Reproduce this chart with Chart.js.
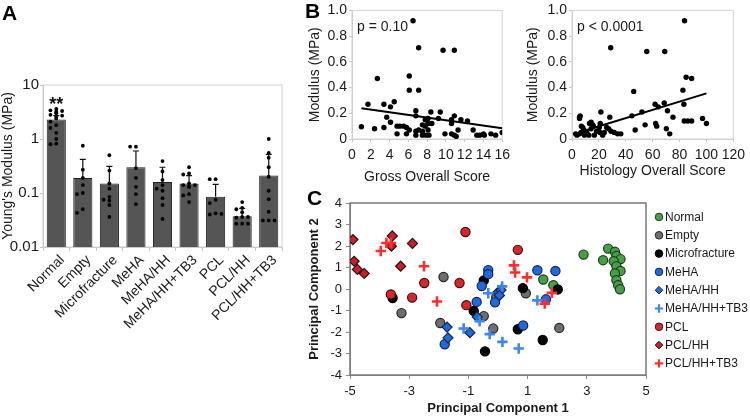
<!DOCTYPE html>
<html>
<head>
<meta charset="utf-8">
<script src="https://cdn.jsdelivr.net/npm/chart.js@4.4.1/dist/chart.umd.min.js"></script>
<style>
  html, body { margin: 0; padding: 0; background: #fff; }
  #fig { position: relative; width: 750px; height: 417px; overflow: hidden; }
  #fig canvas { position: absolute; }
</style>
</head>
<body>
<div id="fig">
  <canvas id="barA" width="290" height="417" style="left:0;top:0"></canvas>
  <canvas id="grossB" width="225" height="200" style="left:290px;top:0"></canvas>
  <canvas id="histoB" width="235" height="200" style="left:515px;top:0"></canvas>
  <canvas id="pcaC" width="460" height="227" style="left:290px;top:190px"></canvas>
</div>
<script>
// ---- panel A: modulus per group (log scale) ----
const groups = ['Normal', 'Empty', 'Microfracture', 'MeHA', 'MeHA/HH', 'MeHA/HH+TB3', 'PCL', 'PCL/HH', 'PCL/HH+TB3'];
const meanModulus = [2.3, 0.19, 0.15, 0.30, 0.16, 0.15, 0.085, 0.037, 0.21];
const errUpper = [2.7, 0.42, 0.31, 0.6, 0.30, 0.21, 0.145, 0.052, 0.52];
const yTicksA = [0.01, 0.1, 1, 10];

const normalPts = [3.6, 3.4, 3.3, 3.2, 3.1, 3.0, 2.8, 2.7, 2.6, 2.4, 2.1, 1.8, 1.6, 1.3, 1.0, 0.82, 0.80];
const emptyPts = [0.75, 0.27, 0.19, 0.14, 0.10, 0.095, 0.05, 0.043];
const microPts = [0.5, 0.26, 0.15, 0.12, 0.085, 0.075, 0.072, 0.06, 0.036];
const mehaPts = [0.72, 0.72, 0.29, 0.19, 0.13, 0.095, 0.062];
const mehaHHPts = [0.39, 0.25, 0.175, 0.14, 0.12, 0.11, 0.08, 0.06, 0.033];
const mehaHHTB3Pts = [0.30, 0.23, 0.22, 0.15, 0.14, 0.14, 0.13, 0.13, 0.095, 0.09, 0.068];
const pclPts = [0.18, 0.18, 0.075, 0.065, 0.042, 0.04, 0.041];
const pclHHPts = [0.068, 0.053, 0.05, 0.044, 0.036, 0.035, 0.036, 0.027, 0.027, 0.027];
const pclHHTB3Pts = [1.0, 0.55, 0.45, 0.3, 0.2, 0.11, 0.077, 0.045, 0.031, 0.031, 0.031];

// ---- panel B: modulus vs scores ----
const grossScore = [1.0, 1.7, 2.4, 2.7, 3.4, 3.4, 3.7, 4.1, 4.5, 4.1, 4.8, 4.8, 5.1, 5.5, 5.8, 6.1, 5.8, 6.1, 6.1, 6.5,
  7.1, 7.1, 6.8, 6.8, 6.8, 6.8, 7.1, 7.5, 7.5, 7.5, 7.8, 7.8, 7.9, 8.1, 8.1, 8.1, 8.4, 8.2, 8.5, 9.2,
  9.4, 9.7, 9.9, 10.6, 10.6, 10.6, 10.9, 10.9, 10.9, 11.1, 11.3, 11.6, 12.3, 12.9, 13.3, 13.6, 14.0, 14.1, 14.8, 15.3, 16.0];
const grossModulus = [0.095, 0.27, 0.08, 0.47, 0.27, 0.09, 0.17, 0.25, 0.29, 0.13, 0.10, 0.04, 0.10, 0.10, 0.09, 0.07, 0.04, 0.49, 0.38, 0.92,
  0.71, 0.38, 0.22, 0.18, 0.06, 0.03, 0.07, 0.11, 0.06, 0.03, 0.15, 0.10, 0.03, 0.12, 0.07, 0.16, 0.21, 0.03, 0.12, 0.16,
  0.21, 0.69, 0.04, 0.15, 0.12, 0.04, 0.69, 0.18, 0.03, 0.02, 0.07, 0.15, 0.14, 0.07, 0.03, 0.03, 0.04, 0.03, 0.04, 0.03, 0.05];
const grossFitX = [1, 16];
const grossFitY = [0.24, 0.083];

const histoScore = [83.7, 28.8, 55.6, 69, 84.9, 89, 82.5, 45.9, 83.2, 61.8, 64.2, 68.6, 52, 44.6, 71, 75.1, 97.1, 100, 86.1, 89,
  83.5, 47, 54.4, 62.2, 63, 70.2, 72.7, 21.5, 28.1, 5.6, 5.6, 6.1, 13, 15.4, 14.2, 2.7, 3.7, 5.6, 6.8, 8.0,
  8.8, 9.3, 11, 12.5, 14.2, 15.9, 16.6, 18.3, 20.3, 20.8, 22.8, 24, 25.8, 27.2, 29, 31.4, 33.9, 36.3, 7, 10, 21];
const histoModulus = [0.92, 0.71, 0.68, 0.68, 0.48, 0.47, 0.38, 0.37, 0.27, 0.27, 0.25, 0.28, 0.21, 0.18, 0.22, 0.17, 0.16, 0.12, 0.14, 0.14,
  0.14, 0.07, 0.11, 0.12, 0.10, 0.08, 0.04, 0.21, 0.17, 0.17, 0.16, 0.18, 0.12, 0.11, 0.13, 0.04, 0.03, 0.04, 0.05, 0.09,
  0.07, 0.03, 0.05, 0.03, 0.08, 0.10, 0.03, 0.06, 0.09, 0.05, 0.03, 0.05, 0.09, 0.08, 0.06, 0.05, 0.04, 0.04, 0.10, 0.04, 0.12];
const histoFitX = [5, 100];
const histoFitY = [0.05, 0.355];

// ---- panel C: principal components ----
const normalPC = [[2.89, 1.6], [3.72, 1.88], [3.55, 1.34], [3.95, 1.73], [4.0, 1.54], [4.14, 1.39], [3.91, 1.29], [4.0, 1.06],
  [4.14, 0.84], [3.95, 0.72], [4.0, 0.41], [4.06, 0.18], [4.12, -0.01], [1.53, 0.44], [1.87, 0.18]];
const emptyPC = [[-1.84, 0.56], [-3.26, -1.12], [-1.95, -1.58], [-0.48, -1.26], [-0.16, -1.84], [-0.06, -0.38], [0.94, -0.2], [2.07, -1.81]];
const microPC = [[-3.56, -0.42], [-0.48, 0.4], [-0.82, -1.02], [-0.44, -2.9], [0.67, -1.87], [0.84, 0.04], [2.02, -0.02], [1.51, -2.37]];
const mehaPC = [[-0.33, 0.88], [-0.33, 0.69], [-0.55, 0.14], [-0.72, -0.6], [-0.1, -0.62], [-1.8, -2.57], [0.85, -1.7], [1.33, 0.87], [1.94, 0.84], [1.62, -0.48]];
const mehaHHPC = [[-1.72, -1.77], [-1.69, -2.27], [-0.95, -2.03], [-0.7, -1.3], [0.0, -0.15], [0.1, -0.05], [0.05, -0.3]];
const mehaHHTB3PC = [[-1.16, -1.84], [-0.28, -2.1], [0.15, -2.46], [0.7, -2.77], [-0.33, -0.2], [0.14, 0.12], [1.33, -0.53], [-0.62, -1.5]];
const pclPC = [[-1.1, 2.65], [-2.49, 0.28], [-1.3, 0.28], [-3.62, -0.25], [-2.9, -0.4], [-1.07, -0.75], [0.67, 1.82]];
const pclHHPC = [[-4.9, 2.3], [-3.57, 2.47], [-3.6, 1.99], [-2.89, 2.12], [-4.86, 1.29], [-4.75, 0.91], [-4.52, 0.72], [-3.29, 1.06]];
const pclHHTB3PC = [[-3.96, 1.77], [-3.77, 2.14], [-3.62, 2.14], [-2.5, 1.06], [-2.06, -0.58], [0.54, 1.1], [0.58, 0.77], [0.98, 0.54], [1.82, -0.18], [1.58, -0.68]];

const FONT = 'Arial, "Liberation Sans", Helvetica, sans-serif';
const INK = '#1a1a1a';
Chart.defaults.font.family = FONT;
Chart.defaults.color = INK;
Chart.defaults.animation = false;
Chart.defaults.plugins.legend.display = false;
Chart.defaults.plugins.tooltip.enabled = false;

function panelLetter(letter, x, y) {
  return {
    id: 'letter' + letter,
    afterDraw(chart) {
      const ctx = chart.ctx;
      ctx.save();
      ctx.font = 'bold 21px ' + FONT;
      ctx.fillStyle = '#000';
      ctx.textBaseline = 'alphabetic';
      ctx.fillText(letter, x, y);
      ctx.restore();
    }
  };
}

// light frame round the plot area
function frame(color, width) {
  return {
    id: 'frame',
    beforeDatasetsDraw(chart) {
      const { ctx, chartArea: a } = chart;
      ctx.save();
      ctx.strokeStyle = color;
      ctx.lineWidth = width;
      ctx.strokeRect(a.left, a.top, a.right - a.left, a.bottom - a.top);
      ctx.restore();
    }
  };
}

// ---------- A ----------
function swarmDots(sets) {
  const out = [];
  const cands = [0, -0.22, 0.22, -0.11, 0.11, -0.33, 0.33];
  sets.forEach((vals, gi) => {
    const placed = [];
    vals.forEach(v => {
      const lv = Math.log10(v);
      let off = cands.find(c => placed.every(p => Math.abs(p.lv - lv) > 0.07 || Math.abs(p.c - c) > 0.15));
      if (off === undefined) off = 0;
      placed.push({ lv, c: off });
      out.push({ x: gi + off, y: v });
    });
  });
  return out;
}

const groupDots = [normalPts, emptyPts, microPts, mehaPts, mehaHHPts, mehaHHTB3Pts, pclPts, pclHHPts, pclHHTB3Pts];

const errorBars = {
  id: 'errorBars',
  afterDatasetsDraw(chart) {
    const { ctx } = chart;
    const xs = chart.scales.x, ys = chart.scales.y;
    ctx.save();
    ctx.strokeStyle = '#111';
    ctx.lineWidth = 1.2;
    meanModulus.forEach((m, i) => {
      const x = xs.getPixelForValue(i);
      const y0 = ys.getPixelForValue(m);
      const y1 = ys.getPixelForValue(errUpper[i]);
      ctx.beginPath();
      ctx.moveTo(x, y0); ctx.lineTo(x, y1);
      ctx.moveTo(x - 3, y1); ctx.lineTo(x + 3, y1);
      ctx.stroke();
    });
    // significance mark over Normal
    const top = ys.getPixelForValue(Math.max(...normalPts));
    ctx.fillStyle = '#111';
    ctx.font = 'bold 18px ' + FONT;
    ctx.textAlign = 'center';
    ctx.textBaseline = 'alphabetic';
    ctx.fillText('**', xs.getPixelForValue(0), top + 1);
    ctx.restore();
  }
};

new Chart(document.getElementById('barA'), {
  type: 'bar',
  data: {
    labels: groups,
    datasets: [
      {
        type: 'scatter', data: swarmDots(groupDots), xAxisID: 'xDots', yAxisID: 'y',
        backgroundColor: '#000', borderWidth: 0, pointRadius: 1.9, order: 0
      },
      {
        type: 'bar', data: meanModulus, xAxisID: 'x', yAxisID: 'y', grouped: false,
        backgroundColor: '#555555', borderColor: '#1e1e1e', borderWidth: 1,
        barPercentage: 0.72, categoryPercentage: 1, order: 1
      }
    ]
  },
  options: {
    responsive: false,
    devicePixelRatio: 1,
    layout: { padding: { top: 85, right: 8, left: 0, bottom: 0 } },
    scales: {
      x: {
        type: 'category', offset: true,
        grid: { drawOnChartArea: false, color: '#c4c4c4', tickLength: 4, offset: true },
        border: { color: '#c4c4c4' },
        ticks: { font: { size: 14 }, color: INK, minRotation: 45, maxRotation: 45, autoSkip: false, padding: 1, labelOffset: 6 },
        afterFit(s) { s.height = 170; }
      },
      xDots: { type: 'linear', display: false, offset: false, grid: { offset: false }, min: -0.5, max: 8.5 },
      y: {
        type: 'logarithmic', min: 0.01, max: 10,
        afterBuildTicks(s) { s.ticks = yTicksA.map(v => ({ value: v })); },
        ticks: { callback: v => String(v), font: { size: 15 }, color: INK, padding: 1 },
        grid: { drawOnChartArea: false, color: '#c4c4c4', tickLength: 3 },
        border: { color: '#c4c4c4' },
        title: { display: true, text: "Young's Modulus (MPa)", font: { size: 14 }, color: INK, padding: { top: 0, bottom: 0 } },
        afterFit(s) { s.width = 43; }
      }
    }
  },
  plugins: [frame('#d0d0d0', 1), errorBars, panelLetter('A', 2, 20)]
});

// ---------- B ----------
function pLabel(text) {
  return {
    id: 'pLabel',
    afterDraw(chart) {
      const { ctx, chartArea: a } = chart;
      ctx.save();
      ctx.font = '14px ' + FONT;
      ctx.fillStyle = INK;
      ctx.textBaseline = 'middle';
      ctx.fillText(text, a.left + 5, a.top + 17);
      ctx.restore();
    }
  };
}

function scoreChart(id, xs, ys, fitX, fitY, xMax, xStep, xTitle, pText, lay) {
  return new Chart(document.getElementById(id), {
    type: 'scatter',
    data: {
      datasets: [
        {
          data: xs.map((x, i) => ({ x, y: ys[i] })),
          backgroundColor: '#000', borderWidth: 0, pointRadius: 2.7
        },
        {
          type: 'line', data: fitX.map((x, i) => ({ x, y: fitY[i] })),
          borderColor: '#000', borderWidth: 2, pointRadius: 0, fill: false
        }
      ]
    },
    options: {
      responsive: false,
      devicePixelRatio: 1,
      layout: { padding: { top: lay.top, right: lay.right, left: 0, bottom: 0 } },
      scales: {
        x: {
          type: 'linear', min: 0, max: xMax,
          ticks: { stepSize: xStep, font: { size: 14 }, color: INK, padding: 5, autoSkip: false, maxRotation: 0, minRotation: 0 },
          grid: { drawOnChartArea: false, color: '#c8c8c8', tickLength: 3 },
          border: { color: '#c8c8c8' },
          title: { display: true, text: xTitle, font: { size: 14 }, color: INK, padding: { top: 0, bottom: lay.xTitlePad } },
          afterFit(s) { s.height = 61; }
        },
        y: {
          type: 'linear', min: 0, max: 1,
          ticks: { stepSize: 0.2, font: { size: 14 }, color: INK, padding: 2 },
          grid: { drawOnChartArea: false, color: '#c8c8c8', tickLength: 3 },
          border: { color: '#c8c8c8' },
          title: { display: true, text: 'Modulus (MPa)', font: { size: 14 }, color: INK, padding: { top: lay.yTitlePad, bottom: 0 } },
          afterFit(s) { s.width = lay.yWidth; }
        }
      }
    },
    plugins: [frame('#d4d4d4', 1), pLabel(pText)].concat(lay.letter ? [panelLetter('B', 15, 18)] : [])
  });
}

scoreChart('grossB', grossScore, grossModulus, grossFitX, grossFitY, 16, 2, 'Gross Overall Score', 'p = 0.10',
  { top: 7, right: 3, yWidth: 62, yTitlePad: 17, xTitlePad: 14, letter: true });
scoreChart('histoB', histoScore, histoModulus, histoFitX, histoFitY, 120, 20, 'Histology Overall Score', 'p < 0.0001',
  { top: 6, right: 13, yWidth: 57, yTitlePad: 10, xTitlePad: 20, letter: false });

// ---------- C ----------
const pcaGroups = ['Normal', 'Empty', 'Microfracture', 'MeHA', 'MeHA/HH', 'MeHA/HH+TB3', 'PCL', 'PCL/HH', 'PCL/HH+TB3'];
const pcaSets = [normalPC, emptyPC, microPC, mehaPC, mehaHHPC, mehaHHTB3PC, pclPC, pclHHPC, pclHHTB3PC];
const pcaLook = [
  { shape: 'circle', fill: '#46a046', edge: '#1f3a1f', w: 1.2, r: 4.6 },
  { shape: 'circle', fill: '#6e6e6e', edge: '#262626', w: 1.2, r: 4.6 },
  { shape: 'circle', fill: '#050505', edge: '#000000', w: 1.2, r: 4.6 },
  { shape: 'circle', fill: '#2169de', edge: '#14254d', w: 1.2, r: 4.6 },
  { shape: 'rectRot', fill: '#2169de', edge: '#14254d', w: 1.2, r: 5 },
  { shape: 'cross', fill: '#3c86f0', edge: '#3c86f0', w: 2.6, r: 5.2 },
  { shape: 'circle', fill: '#d8262b', edge: '#3a1010', w: 1.2, r: 4.6 },
  { shape: 'rectRot', fill: '#c9202a', edge: '#2e0c0c', w: 1.2, r: 5 },
  { shape: 'cross', fill: '#ff2d2d', edge: '#ff2d2d', w: 2.6, r: 5.2 }
];

const pcaLegend = {
  id: 'pcaLegend',
  afterDraw(chart) {
    const { ctx, chartArea: a } = chart;
    const x0 = a.right + 13, y0 = a.top + 14, step = 18.3;
    chart.data.datasets.forEach((ds, i) => {
      const y = y0 + i * step;
      const look = pcaLook[i];
      ctx.save();
      ctx.fillStyle = look.fill;
      ctx.strokeStyle = look.edge;
      ctx.lineWidth = look.shape === 'cross' ? 2.2 : 1;
      const opts = { pointStyle: look.shape, radius: look.shape === 'cross' ? 4.2 : 3.8, borderWidth: ctx.lineWidth, rotation: 0 };
      if (Chart.helpers && Chart.helpers.drawPoint) {
        Chart.helpers.drawPoint(ctx, opts, x0, y);
      } else {
        ctx.beginPath(); ctx.arc(x0, y, 3.8, 0, Math.PI * 2); ctx.fill(); ctx.stroke();
      }
      ctx.fillStyle = INK;
      ctx.font = '12px ' + FONT;
      ctx.textBaseline = 'middle';
      ctx.fillText(ds.label, x0 + 6, y + 0.5);
      ctx.restore();
    });
  }
};

new Chart(document.getElementById('pcaC'), {
  type: 'scatter',
  data: {
    datasets: pcaSets.map((pts, i) => ({
      label: pcaGroups[i],
      data: pts.map(p => ({ x: p[0], y: p[1] })),
      pointStyle: pcaLook[i].shape,
      backgroundColor: pcaLook[i].fill,
      borderColor: pcaLook[i].edge,
      borderWidth: pcaLook[i].w,
      pointRadius: pcaLook[i].r,
      order: pcaSets.length - i
    }))
  },
  options: {
    responsive: false,
    devicePixelRatio: 1,
    layout: { padding: { top: 13, right: 104, left: 0, bottom: 0 } },
    scales: {
      x: {
        type: 'linear', min: -5, max: 5,
        ticks: { stepSize: 2, font: { size: 13 }, color: INK, padding: 5 },
        grid: { drawOnChartArea: false, color: '#8a8a8a', tickLength: 4 },
        border: { color: '#8a8a8a' },
        title: { display: true, text: 'Principal Component 1', font: { size: 13, weight: 'bold' }, color: INK, padding: { top: 0, bottom: 1 } },
        afterFit(s) { s.height = 42; }
      },
      y: {
        type: 'linear', min: -4, max: 4,
        ticks: { stepSize: 1, font: { size: 13 }, color: INK, padding: 4 },
        grid: { drawOnChartArea: false, color: '#8a8a8a', tickLength: 4 },
        border: { color: '#8a8a8a' },
        title: { display: true, text: 'Principal Component 2', font: { size: 13, weight: 'bold' }, color: INK, padding: { top: 17, bottom: 0 } },
        afterFit(s) { s.width = 60; }
      }
    }
  },
  plugins: [frame('#7a7a7a', 1.5), pcaLegend, panelLetter('C', 17, 15)]
});
</script>
</body>
</html>
